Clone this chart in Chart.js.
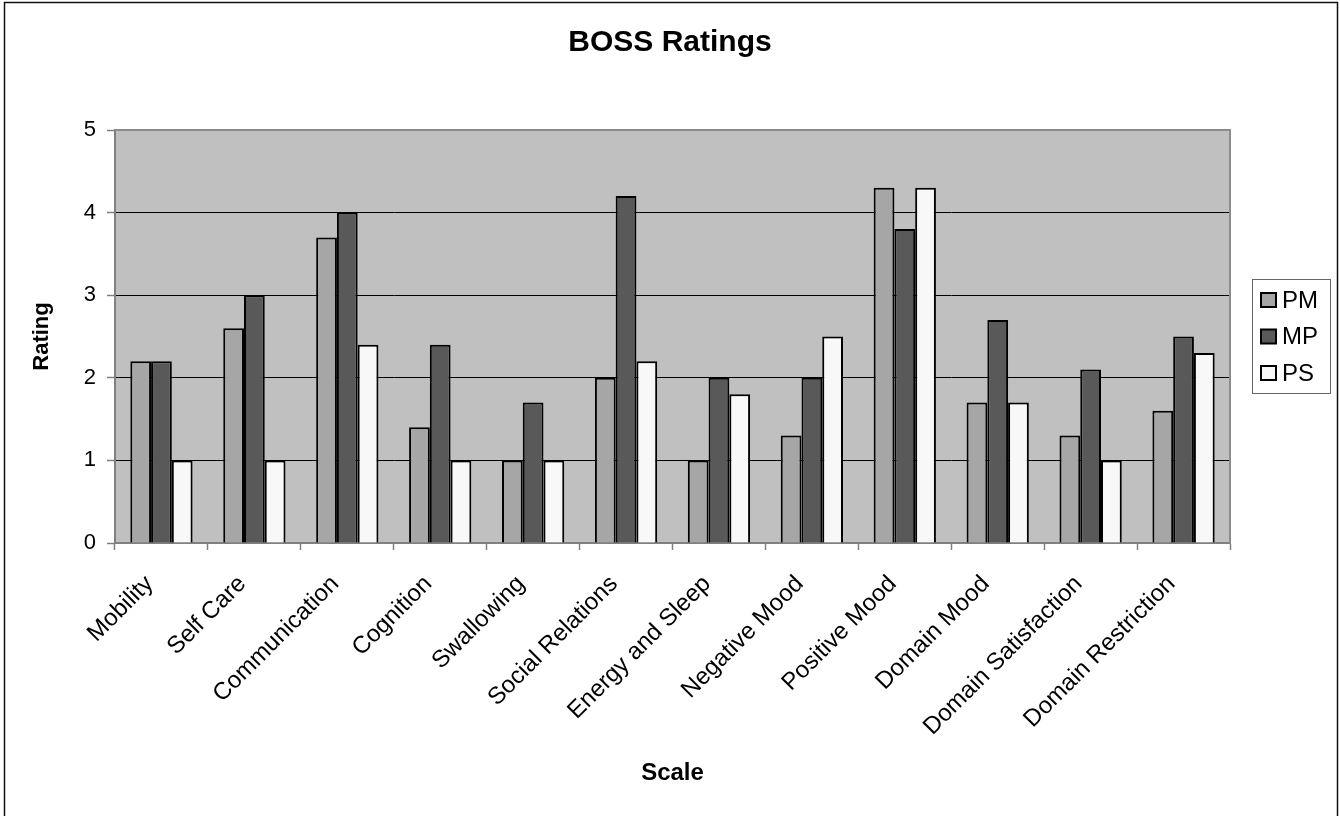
<!DOCTYPE html>
<html>
<head>
<meta charset="utf-8">
<title>BOSS Ratings</title>
<script src="https://cdn.jsdelivr.net/npm/chart.js@4.4.1/dist/chart.umd.min.js"></script>
<style>
  html, body { margin: 0; padding: 0; background: #fff; }
  #wrap { width: 1340px; height: 816px; position: relative; }
</style>
</head>
<body>
<div id="wrap"><canvas id="bossChart" width="1340" height="816"></canvas></div>
<script>
const categories = [
  "Mobility", "Self Care", "Communication", "Cognition", "Swallowing",
  "Social Relations", "Energy and Sleep", "Negative Mood", "Positive Mood",
  "Domain Mood", "Domain Satisfaction", "Domain Restriction"
];
const seriesNames = ["PM", "MP", "PS"];
const pmValues = [2.2, 2.6, 3.7, 1.4, 1.0, 2.0, 1.0, 1.3, 4.3, 1.7, 1.3, 1.6];
const mpValues = [2.2, 3.0, 4.0, 2.4, 1.7, 4.2, 2.0, 2.0, 3.8, 2.7, 2.1, 2.5];
const psValues = [1.0, 1.0, 2.4, 1.0, 1.0, 2.2, 1.8, 2.5, 4.3, 1.7, 1.0, 2.3];
const yTicks = [0, 1, 2, 3, 4, 5];

const FONT = "'Liberation Sans', Arial, Helvetica, sans-serif";
const fills = ["#a6a6a6", "#595959", "#f8f8f8"];

// grey plot background + outer frame
const plotBackground = {
  id: "plotBackground",
  beforeDraw(chart) {
    const { ctx, chartArea: a } = chart;
    ctx.save();
    ctx.fillStyle = "#fff";
    ctx.fillRect(0, 0, chart.width, chart.height);
    ctx.fillStyle = "#c0c0c0";
    ctx.fillRect(a.left, a.top, a.right - a.left, a.bottom - a.top);
    ctx.restore();
  },
  beforeDatasetsDraw(chart) {
    const { ctx, chartArea: a } = chart;
    ctx.save();
    ctx.strokeStyle = "#8c8c8c";
    ctx.lineWidth = 2;
    ctx.beginPath();
    ctx.moveTo(a.left, a.top);
    ctx.lineTo(a.right, a.top);
    ctx.lineTo(a.right, a.bottom);
    ctx.stroke();
    ctx.restore();
  },
  afterDraw(chart) {
    const { ctx } = chart;
    ctx.save();
    ctx.strokeStyle = "#111";
    ctx.lineWidth = 1.5;
    ctx.strokeRect(4.5, 2.5, 1333, 830);
    ctx.restore();
  }
};

// excel-style boxed legend on the right
const boxLegend = {
  id: "boxLegend",
  afterDraw(chart) {
    const { ctx } = chart;
    const box = { x: 1252.5, y: 279.5, w: 78, h: 114 };
    ctx.save();
    ctx.fillStyle = "#fff";
    ctx.fillRect(box.x, box.y, box.w, box.h);
    ctx.strokeStyle = "#666";
    ctx.lineWidth = 1;
    ctx.strokeRect(box.x, box.y, box.w, box.h);
    ctx.font = "24px " + FONT;
    ctx.textBaseline = "middle";
    chart.data.datasets.forEach((ds, i) => {
      const cy = 300 + i * 36.5;
      ctx.fillStyle = ds.backgroundColor;
      ctx.fillRect(1261, cy - 7, 15, 14);
      ctx.strokeStyle = "#000";
      ctx.lineWidth = 2;
      ctx.strokeRect(1261, cy - 7, 15, 14);
      ctx.fillStyle = "#000";
      ctx.fillText(ds.label, 1282, cy + 1);
    });
    ctx.restore();
  }
};

new Chart(document.getElementById("bossChart"), {
  type: "bar",
  data: {
    labels: categories,
    datasets: [pmValues, mpValues, psValues].map((values, i) => ({
      label: seriesNames[i],
      data: values,
      backgroundColor: fills[i],
      borderColor: "#000",
      borderWidth: 2,
      borderSkipped: "start",
      categoryPercentage: 0.67,
      barPercentage: 1.0
    }))
  },
  options: {
    responsive: false,
    animation: false,
    devicePixelRatio: 1,
    layout: { padding: 0 },
    plugins: {
      legend: { display: false },
      tooltip: { enabled: false },
      title: {
        display: true,
        text: "BOSS Ratings",
        color: "#000",
        font: { family: FONT, size: 30, weight: "bold", lineHeight: 1.2 },
        padding: { top: 25, bottom: 69 }
      }
    },
    scales: {
      x: {
        afterFit: (scale) => { scale.height = 273; },
        grid: {
          offset: true,
          drawOnChartArea: false,
          drawTicks: true,
          tickLength: 7,
          tickColor: "#808080",
          tickWidth: 1.5
        },
        border: { display: true, color: "#808080", width: 2 },
        ticks: {
          autoSkip: false,
          minRotation: 45,
          maxRotation: 45,
          padding: 20,
          labelOffset: -12,
          color: "#000",
          font: { family: FONT, size: 24 }
        },
        title: {
          display: true,
          text: "Scale",
          color: "#000",
          font: { family: FONT, size: 24, weight: "bold", lineHeight: 1.2 },
          padding: { top: 0, bottom: 28 }
        }
      },
      y: {
        min: 0,
        max: 5,
        afterFit: (scale) => { scale.width = 115; },
        afterBuildTicks: (scale) => { scale.ticks = yTicks.map((v) => ({ value: v })); },
        grid: {
          color: (c) => (c.tick && c.tick.value === 5 ? "#8c8c8c" : "#000"),
          lineWidth: 1,
          tickLength: 8,
          tickColor: "#808080",
          tickWidth: 1.5
        },
        border: { display: true, color: "#808080", width: 2 },
        ticks: {
          padding: 11,
          color: "#000",
          font: { family: FONT, size: 22 }
        },
        title: {
          display: true,
          text: "Rating",
          color: "#000",
          font: { family: FONT, size: 22, weight: "bold", lineHeight: 1.2 },
          padding: { top: 29, bottom: 0 }
        }
      },
      // empty right-hand strip that leaves room for the legend
      spacer: {
        type: "linear",
        position: "right",
        display: true,
        afterFit: (scale) => { scale.width = 110; },
        grid: { display: false, drawTicks: false },
        border: { display: false },
        ticks: { display: false }
      }
    }
  },
  plugins: [plotBackground, boxLegend]
});
</script>
</body>
</html>
